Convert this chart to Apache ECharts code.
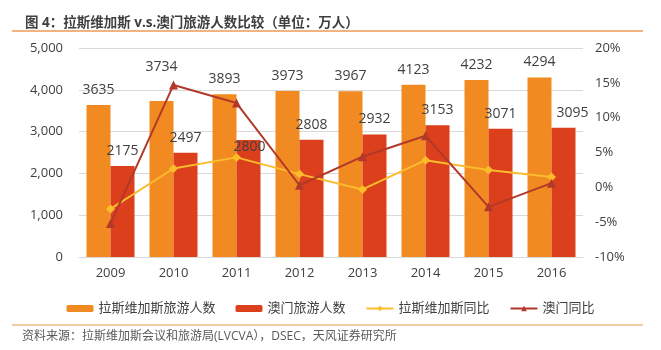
<!DOCTYPE html>
<html>
<head>
<meta charset="utf-8">
<script src="https://cdn.jsdelivr.net/npm/echarts@6/dist/echarts.min.js"></script>
<style>
  html, body { margin: 0; padding: 0; background: #fff; }
  #chart { width: 661px; height: 350px; }
</style>
</head>
<body>
<div id="chart"></div>
<script>
const years = ['2009', '2010', '2011', '2012', '2013', '2014', '2015', '2016'];
const vegasVisitors = [3635, 3734, 3893, 3973, 3967, 4123, 4232, 4294];
const macauVisitors = [2175, 2497, 2800, 2808, 2932, 3153, 3071, 3095];
const vegasYoY = [-3.1, 2.7, 4.3, 1.9, -0.3, 3.9, 2.5, 1.5];
const macauYoY = [-5.2, 14.7, 12.1, 0.3, 4.4, 7.4, -2.8, 0.6];
const leftTicks = [0, 5000, 1000];
const rightTicks = [-10, 20, 5];

const font = "'Open Sans', 'Noto Sans CJK SC', sans-serif";
const textColor = '#404040';

// 手动挪过的几个数据标签
const vegasLabelShift = { 1: [0, -19] };
const macauLabelShift = { 2: [1, 22], 7: [9, 0] };

function withShift(values, shifts) {
  return values.map((v, i) =>
    shifts[i] ? { value: v, label: { offset: shifts[i] } } : v
  );
}

const chart = echarts.init(document.getElementById('chart'));
chart.setOption({
  backgroundColor: '#fff',
  textStyle: { fontFamily: font },
  animation: false,
  title: {
    text: '图 4：拉斯维加斯 v.s.澳门旅游人数比较（单位：万人）',
    left: 20,
    top: 11,
    textStyle: { fontSize: 13.5, fontWeight: 'bold', color: '#3f3f3f', fontFamily: font },
  },
  graphic: [
    { type: 'line', shape: { x1: 12, y1: 31, x2: 643, y2: 31 }, style: { stroke: '#F5B27C', lineWidth: 2 } },
    { type: 'line', shape: { x1: 12, y1: 325, x2: 643, y2: 325 }, style: { stroke: '#F3CCA8', lineWidth: 2 } },
    {
      type: 'text',
      left: 22,
      top: 331,
      style: {
        text: '资料来源：拉斯维加斯会议和旅游局(LVCVA），DSEC，天风证券研究所',
        fontSize: 12,
        fill: '#595959',
        fontFamily: font,
      },
    },
  ],
  grid: { left: 79, right: 78, top: 48, bottom: 93 },
  legend: {
    left: 'center',
    top: 297,
    itemWidth: 27,
    itemHeight: 7,
    itemGap: 20,
    textStyle: { fontSize: 13, color: textColor, fontFamily: font },
    data: ['拉斯维加斯旅游人数', '澳门旅游人数', '拉斯维加斯同比', '澳门同比'],
  },
  xAxis: {
    type: 'category',
    data: years,
    axisLine: { lineStyle: { color: '#d9d9d9' } },
    axisTick: { show: false },
    axisLabel: { fontSize: 13, color: textColor, margin: 10 },
  },
  yAxis: [
    {
      type: 'value',
      min: leftTicks[0],
      max: leftTicks[1],
      interval: leftTicks[2],
      axisLabel: {
        fontSize: 13,
        color: textColor,
        margin: 16,
        formatter: (v) => v.toLocaleString('en-US'),
      },
      splitLine: { lineStyle: { color: '#d9d9d9' } },
    },
    {
      type: 'value',
      min: rightTicks[0],
      max: rightTicks[1],
      interval: rightTicks[2],
      axisLabel: { fontSize: 13, color: textColor, margin: 12, formatter: '{value}%' },
      splitLine: { show: false },
    },
  ],
  series: [
    {
      name: '拉斯维加斯旅游人数',
      type: 'bar',
      data: withShift(vegasVisitors, vegasLabelShift),
      barWidth: 24,
      barGap: '0%',
      itemStyle: { color: '#F28A22' },
      label: { show: true, position: 'top', distance: 8, fontSize: 14, color: textColor },
    },
    {
      name: '澳门旅游人数',
      type: 'bar',
      data: withShift(macauVisitors, macauLabelShift),
      barWidth: 24,
      itemStyle: { color: '#DC3F1C' },
      label: { show: true, position: 'top', distance: 8, fontSize: 14, color: textColor },
    },
    {
      name: '拉斯维加斯同比',
      type: 'line',
      yAxisIndex: 1,
      data: vegasYoY,
      symbol: 'diamond',
      symbolSize: 9,
      lineStyle: { color: '#FBBC2C', width: 2 },
      itemStyle: { color: '#FBBC2C' },
      z: 5,
    },
    {
      name: '澳门同比',
      type: 'line',
      yAxisIndex: 1,
      data: macauYoY,
      symbol: 'triangle',
      symbolSize: 9,
      lineStyle: { color: '#B2392A', width: 2 },
      itemStyle: { color: '#B2392A' },
      z: 6,
    },
  ],
});
</script>
</body>
</html>
